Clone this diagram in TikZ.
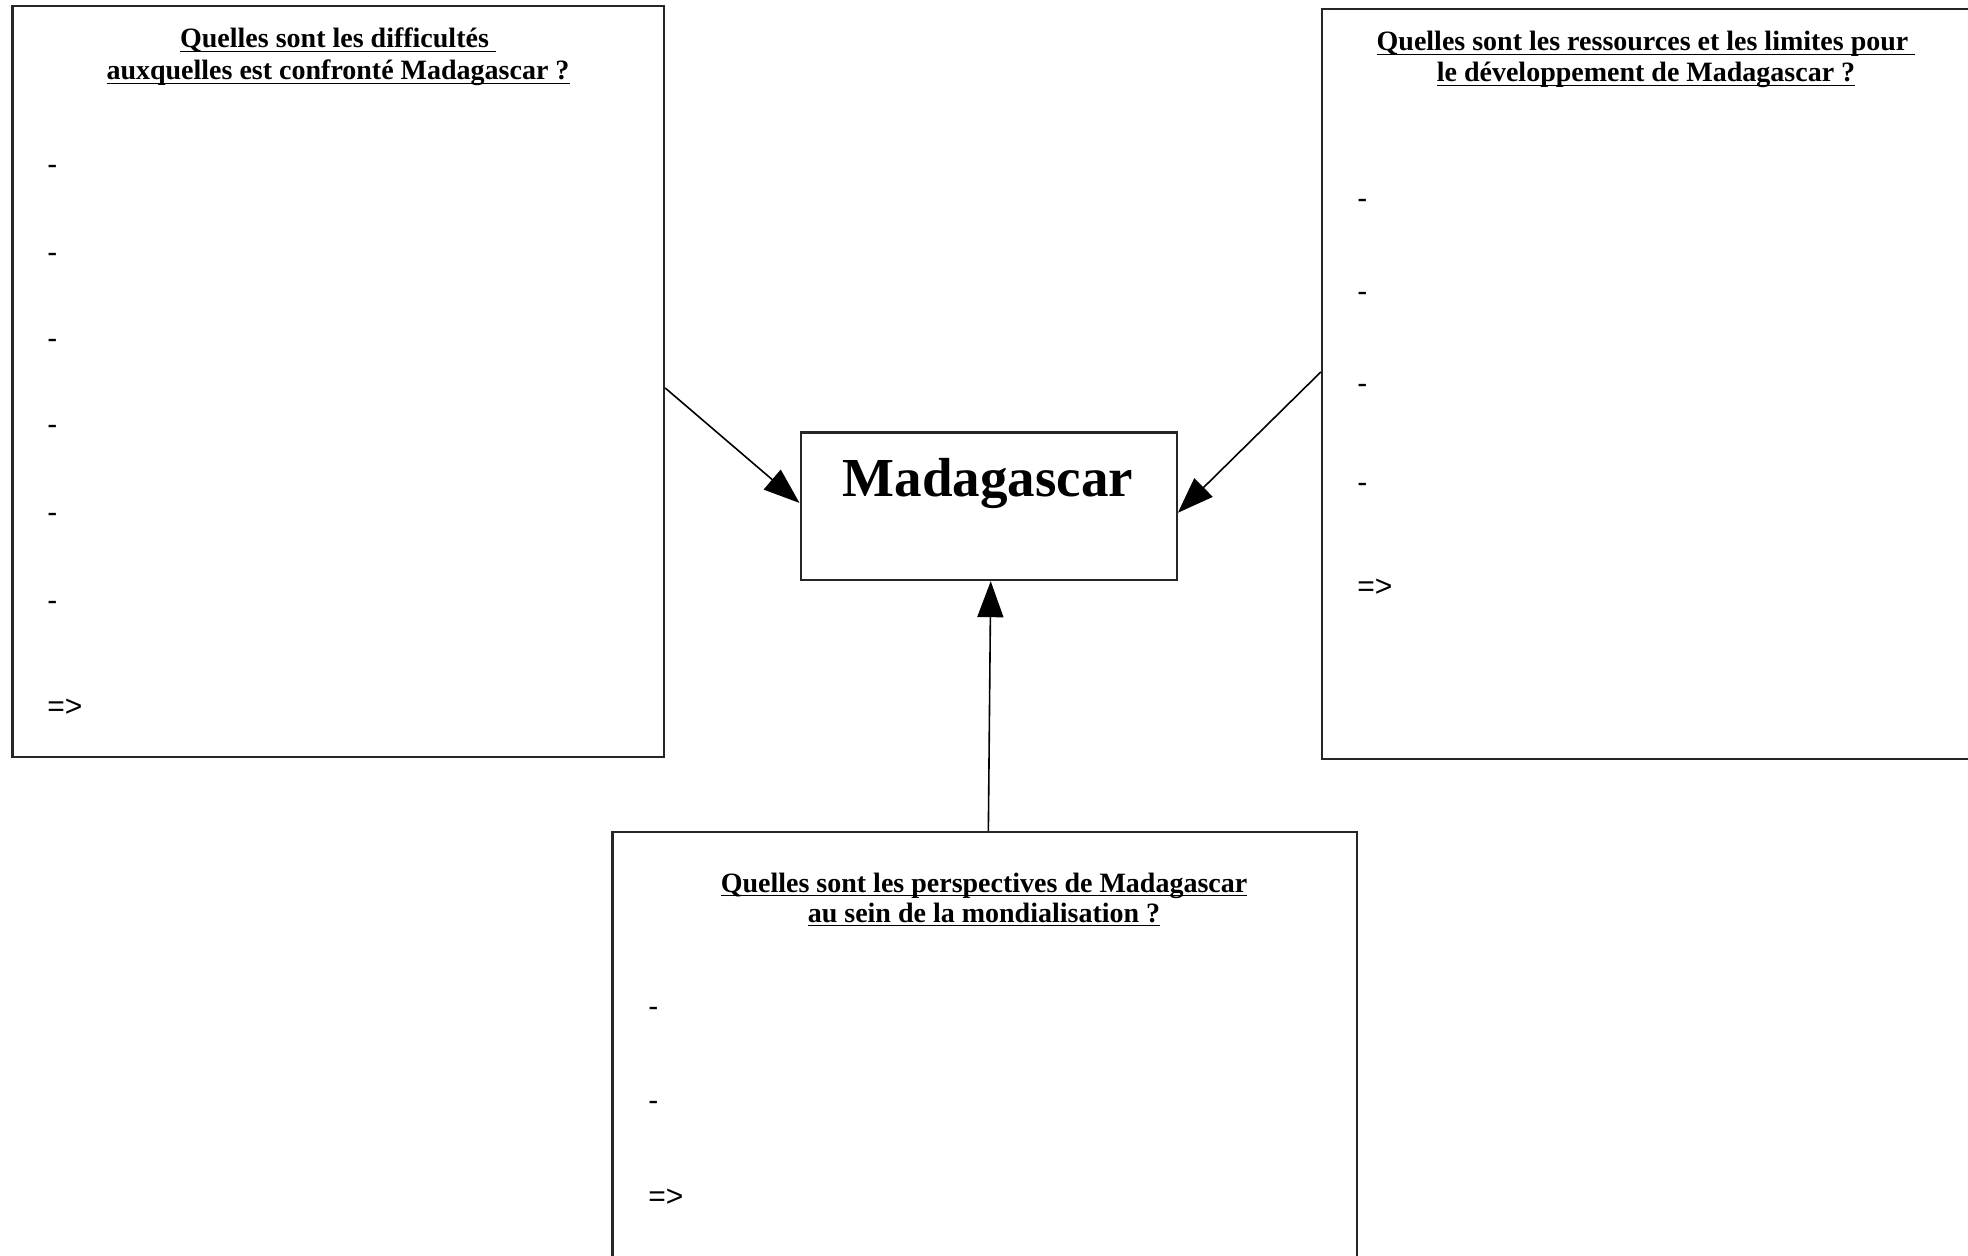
\documentclass[tikz,border=0pt]{standalone}
\usepackage{fontspec}
\setmainfont{Liberation Serif}
\newfontfamily\sansf{Liberation Sans}
\usetikzlibrary{arrows.meta}
\newcommand\ulx[1]{\setbox0\hbox{#1}\rlap{\rule[-2.2pt]{\wd0}{0.75pt}}\box0}
\begin{document}
\begin{tikzpicture}[x=0.5pt,y=-0.5pt,
  frame/.style={draw=black!85,line width=1.2pt,rectangle,inner sep=0pt},
  ttl/.style={font=\fontsize{14}{16}\selectfont\bfseries,anchor=base,inner sep=0pt},
  mk/.style={font=\sansf\fontsize{15}{17}\selectfont,anchor=base west,inner sep=0pt},
  link/.style={line width=0.8pt,-{Triangle[length=18pt,width=13pt]}}]
\useasboundingbox (0,0) rectangle (1968,1256);
\clip (0,0) rectangle (1968,1256);
% boxes
\node[frame,minimum width=325.7pt,minimum height=375.5pt] (lbox) at (338.3,381.5) {};
\node[frame,minimum width=325pt,minimum height=375pt] (rbox) at (1647,384) {};
\node[frame,minimum width=372.25pt,minimum height=216.5pt] (botbox) at (984.75,1048.5) {};
\node[frame,minimum width=188pt,minimum height=73.65pt] (cbox) at (988.7,506.35) {};
% titles
\node[ttl] (lt1) at (338,48) {\ulx{Quelles sont les difficultés\ }};
\node[ttl] (lt2) at (338,80) {\ulx{auxquelles est confronté Madagascar ?}};
\node[ttl] (rt1) at (1646,51) {\ulx{Quelles sont les ressources et les limites pour\ }};
\node[ttl] (rt2) at (1646,82) {\ulx{le développement de Madagascar ?}};
\node[ttl] (bt1) at (984,892) {\ulx{Quelles sont les perspectives de Madagascar}};
\node[ttl] (bt2) at (984,922) {\ulx{au sein de la mondialisation ?}};
\node[font=\fontsize{27.5}{30}\selectfont\bfseries,anchor=base,inner sep=0pt] (mtxt) at (988,496) {Madagascar};
% items
\foreach \y [count=\i] in {175,263,349,435,523,610} \node[mk] (ld\i) at (47,\y) {-};
\node[mk] (lc) at (47,716) {=>};
\foreach \y [count=\i] in {209,302,394,493} \node[mk] (rd\i) at (1357,\y) {-};
\node[mk] (rc) at (1357,596) {=>};
\foreach \y [count=\i] in {1016,1110} \node[mk] (bd\i) at (648,\y) {-};
\node[mk] (bc) at (648,1206) {=>};
% connectors
\draw[link] ([yshift=-3.25pt]lbox.east) -- ([yshift=1.7pt]cbox.west);
\draw[link] ([yshift=6pt]rbox.west) -- ([yshift=-3.2pt]cbox.east);
\draw[link] ([xshift=1.8pt]botbox.north) -- ([xshift=1pt]cbox.south);
\end{tikzpicture}
\end{document}
